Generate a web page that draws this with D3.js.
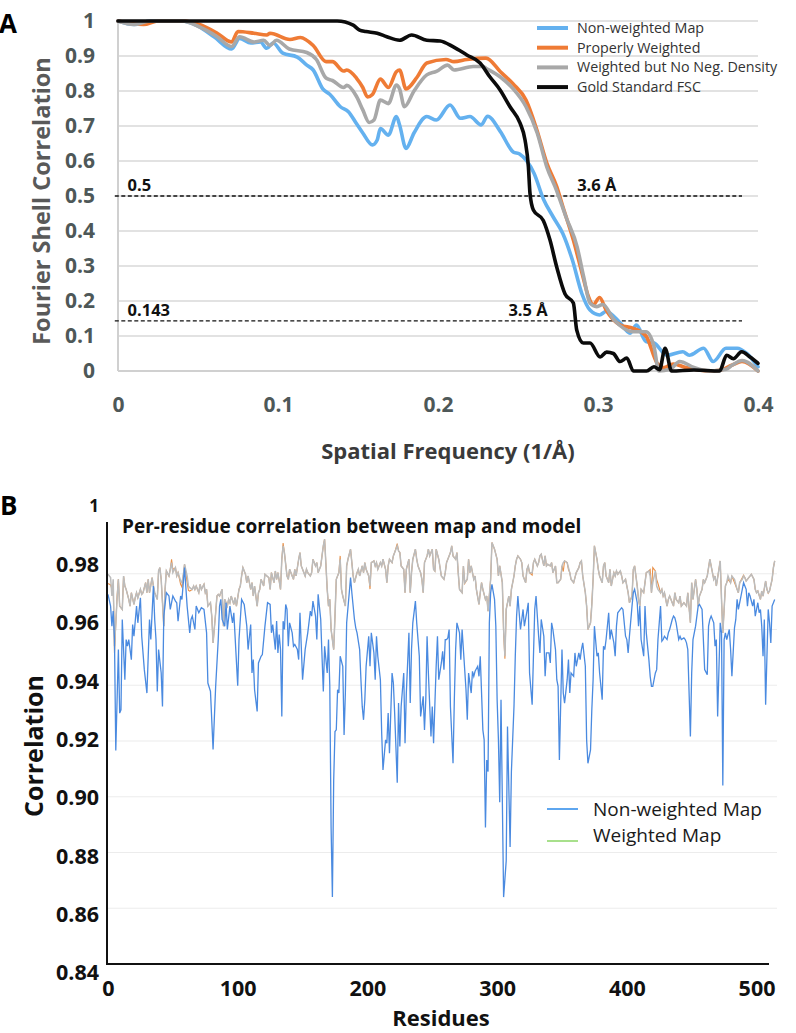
<!DOCTYPE html>
<html><head><meta charset="utf-8">
<script src="https://cdn.jsdelivr.net/npm/d3@7"></script>
<style>body{margin:0;background:#fff}svg{display:block}text{font-family:"Open Sans",sans-serif}</style>
</head><body>
<script>
// ---------- Panel A data (Fourier Shell Correlation) ----------
const seriesA = ["Non-weighted Map","Properly Weighted","Weighted but No Neg. Density","Gold Standard FSC"];
const freqBlue=[0,0.01,0.02,0.04,0.05,0.06,0.071,0.076,0.083,0.089,0.093,0.097,0.103,0.112,0.118,0.122,0.128,0.1325,0.139,0.144,0.149,0.153,0.159,0.162,0.164,0.169,0.174,0.176,0.18,0.185,0.193,0.199,0.2075,0.214,0.22,0.227,0.231,0.239,0.247,0.251,0.26,0.266,0.272,0.278,0.284,0.29,0.295,0.301,0.305,0.314,0.32,0.324,0.33,0.335,0.343,0.353,0.357,0.366,0.372,0.38,0.387,0.393,0.4];
const fscBlue=[1,0.99,1,1,0.985,0.955,0.92,0.95,0.937,0.94,0.922,0.937,0.908,0.897,0.874,0.86,0.806,0.79,0.755,0.741,0.707,0.68,0.646,0.66,0.693,0.674,0.727,0.703,0.636,0.68,0.727,0.717,0.76,0.722,0.727,0.703,0.728,0.684,0.626,0.62,0.565,0.49,0.44,0.393,0.317,0.22,0.174,0.16,0.17,0.137,0.108,0.131,0.084,0.08,0.045,0.055,0.045,0.065,0.027,0.065,0.065,0.05,0.012];
const freqOrange=[0,0.016,0.025,0.041,0.051,0.062,0.071,0.075,0.085,0.093,0.095,0.1075,0.114,0.122,0.13,0.134,0.141,0.143,0.149,0.153,0.156,0.159,0.164,0.169,0.174,0.176,0.18,0.187,0.193,0.205,0.21,0.218,0.23,0.239,0.247,0.255,0.2617,0.268,0.2742,0.278,0.2846,0.29,0.294,0.297,0.301,0.305,0.314,0.322,0.33,0.337,0.341,0.347,0.355,0.36,0.37,0.376,0.384,0.39,0.4];
const fscOrange=[1,0.99,1,1,0.99,0.965,0.94,0.97,0.965,0.96,0.965,0.947,0.953,0.93,0.884,0.884,0.857,0.86,0.837,0.81,0.783,0.79,0.834,0.81,0.855,0.86,0.806,0.84,0.88,0.89,0.884,0.89,0.894,0.855,0.82,0.774,0.69,0.594,0.527,0.47,0.374,0.28,0.213,0.189,0.21,0.175,0.131,0.122,0.1,0.022,0.01,0.02,0.01,0.005,0,0.002,0.017,0.027,0];
const freqGray=[0,0.01,0.02,0.04,0.05,0.062,0.071,0.076,0.085,0.091,0.095,0.099,0.107,0.118,0.124,0.13,0.134,0.141,0.143,0.149,0.153,0.157,0.16,0.164,0.169,0.174,0.176,0.179,0.185,0.193,0.199,0.206,0.21,0.222,0.228,0.23,0.239,0.247,0.255,0.262,0.268,0.274,0.28,0.287,0.291,0.295,0.299,0.303,0.31,0.322,0.33,0.335,0.338,0.345,0.351,0.36,0.37,0.38,0.384,0.39,0.4];
const fscGray=[1,0.99,1,1,0.985,0.955,0.927,0.955,0.94,0.945,0.93,0.945,0.92,0.91,0.89,0.837,0.83,0.81,0.816,0.785,0.746,0.71,0.717,0.774,0.764,0.817,0.806,0.755,0.8,0.846,0.856,0.874,0.86,0.87,0.87,0.865,0.84,0.806,0.755,0.68,0.583,0.517,0.44,0.354,0.27,0.194,0.184,0.19,0.146,0.112,0.112,0.07,0,0.005,0.027,0.01,0,0.005,0.017,0.03,0];
const freqBlack=[0,0.137,0.147,0.151,0.155,0.162,0.168,0.176,0.1835,0.193,0.2013,0.2096,0.218,0.2263,0.2325,0.2388,0.245,0.2513,0.2544,0.2565,0.2575,0.2596,0.2658,0.27,0.2742,0.2794,0.2846,0.2867,0.2908,0.295,0.3013,0.3054,0.3096,0.3138,0.318,0.3221,0.3304,0.335,0.3385,0.3419,0.346,0.36,0.376,0.3804,0.3846,0.3898,0.395,0.4];
const fscBlack=[1,1,0.988,0.974,0.97,0.965,0.955,0.945,0.96,0.945,0.943,0.926,0.903,0.88,0.84,0.803,0.755,0.708,0.66,0.583,0.507,0.46,0.43,0.374,0.297,0.22,0.194,0.117,0.08,0.08,0.04,0.054,0.05,0.027,0.037,0,0,0.012,0.004,0.065,0,0.003,0,0.045,0.035,0.055,0.04,0.022];
const thresholds=[0.5,0.143];
const thresholdLabels=["0.5","0.143"];
const resolutionLabels=["3.6 Å","3.5 Å"];
const resolutionFreq=[0.287,0.244];
const xTicksA=[0,0.1,0.2,0.3,0.4];

// ---------- Panel B data (per-residue correlation) ----------
const seriesB=["Non-weighted Map","Weighted Map"];
const resBlue=[0,2,3,4,5,6,8,9,10,11,13,14,15,16,18,19,20,22,23,25,26,28,30,32,33,35,36,37,38,39,41,42,43,45,47,48,50,52,53,54,56,57,59,61,63,64,65,67,68,70,72,74,76,77,79,81,83,85,86,87,88,90,91,92,94,96,97,100,101,103,105,107,108,110,111,112,113,115,116,118,119,121,123,125,126,127,129,130,131,132,133,134,135,136,137,138,139,140,142,143,144,146,147,148,150,152,154,156,157,158,160,161,162,164,165,166,167,169,170,171,172,173,174,175,176,177,178,179,181,182,183,184,186,187,188,190,191,192,194,195,196,197,198,199,201,202,203,205,206,207,208,210,211,212,214,215,216,217,219,220,221,223,224,225,226,228,229,230,232,233,234,235,237,238,240,241,243,244,245,246,247,249,250,251,253,254,255,257,258,259,260,261,262,263,264,266,267,268,269,271,272,273,274,276,277,278,280,281,282,283,285,286,287,289,290,291,292,293,294,295,296,298,299,300,301,302,303,305,307,308,310,311,313,314,315,316,318,319,320,321,323,324,325,327,328,329,330,332,333,334,336,337,338,340,341,342,343,345,346,347,348,350,351,352,354,355,356,357,359,360,361,363,364,365,366,368,369,370,372,373,374,375,377,378,379,381,382,383,384,386,387,388,390,391,392,393,395,396,397,399,400,401,402,404,405,406,408,409,410,411,413,414,415,417,418,419,420,422,423,424,426,427,428,429,431,432,433,435,436,437,438,440,441,442,444,445,446,447,449,450,451,453,454,455,456,458,459,460,462,463,464,465,467,468,469,470,472,473,474,475,476,477,479,480,481,483,484,485,486,488,489,490,492,493,494,495,497,498,499,501,502,503,504,505,506,507,509,510,511,512,514];
const corrBlue=[0.9726,0.9684,0.9612,0.9666,0.9564,0.9166,0.9528,0.930,0.9312,0.9636,0.942,0.9564,0.954,0.9564,0.9492,0.9618,0.9576,0.9684,0.9624,0.9714,0.9576,0.9456,0.9372,0.9636,0.9564,0.9756,0.9636,0.9564,0.9378,0.9528,0.9444,0.9324,0.9648,0.9732,0.972,0.9672,0.972,0.9702,0.9696,0.963,0.972,0.9708,0.9822,0.9684,0.9588,0.9636,0.9648,0.960,0.9684,0.966,0.9678,0.9672,0.9588,0.9408,0.9378,0.917,0.9396,0.9564,0.9684,0.9708,0.9636,0.9612,0.9696,0.960,0.9684,0.9624,0.966,0.9398,0.9564,0.9708,0.969,0.9612,0.9528,0.9618,0.9444,0.9492,0.9384,0.9306,0.948,0.9504,0.951,0.9612,0.9696,0.969,0.9588,0.9618,0.9528,0.963,0.9516,0.9582,0.9528,0.9288,0.963,0.960,0.969,0.9672,0.954,0.9624,0.9588,0.954,0.9546,0.9528,0.9492,0.966,0.942,0.9528,0.9588,0.9666,0.9648,0.9702,0.9648,0.9564,0.9726,0.9636,0.9504,0.9378,0.954,0.9444,0.9564,0.9396,0.889,0.864,0.906,0.9234,0.924,0.9384,0.9372,0.9504,0.9468,0.9222,0.9372,0.9624,0.9732,0.9786,0.9732,0.9636,0.9606,0.9588,0.9528,0.942,0.9324,0.9276,0.9348,0.9468,0.9576,0.9468,0.9588,0.9516,0.942,0.9576,0.9504,0.942,0.9228,0.9096,0.9204,0.9192,0.930,0.9156,0.9444,0.9408,0.930,0.905,0.9336,0.918,0.9324,0.9444,0.9192,0.9372,0.9588,0.9336,0.9528,0.9624,0.9702,0.9624,0.9504,0.9288,0.936,0.924,0.9348,0.9576,0.9444,0.9216,0.9324,0.9192,0.9468,0.9576,0.942,0.948,0.9522,0.9456,0.9564,0.9564,0.957,0.960,0.9324,0.912,0.9348,0.9528,0.9624,0.9588,0.9492,0.960,0.9528,0.9384,0.9276,0.9444,0.9372,0.945,0.9432,0.945,0.9468,0.9432,0.9504,0.924,0.9204,0.889,0.9132,0.909,0.9624,0.9732,0.9762,0.9708,0.9612,0.9348,0.9204,0.898,0.9348,0.864,0.877,0.9252,0.882,0.909,0.9324,0.9504,0.9648,0.972,0.960,0.9636,0.9672,0.9612,0.9666,0.9696,0.9444,0.933,0.9504,0.9672,0.972,0.9576,0.9516,0.9636,0.9576,0.9432,0.9516,0.9516,0.948,0.9624,0.960,0.9528,0.942,0.9396,0.9132,0.9528,0.9372,0.9336,0.942,0.9492,0.9372,0.9444,0.9432,0.9516,0.9468,0.9516,0.9492,0.9528,0.9552,0.9468,0.9204,0.912,0.9168,0.9312,0.942,0.9612,0.9504,0.9516,0.9444,0.9348,0.954,0.9528,0.9564,0.966,0.9564,0.960,0.9552,0.9504,0.9612,0.966,0.9672,0.9678,0.9672,0.9576,0.9564,0.9516,0.9576,0.9684,0.9732,0.9744,0.9696,0.9612,0.9684,0.9564,0.9504,0.9684,0.9588,0.9492,0.9432,0.9396,0.9396,0.9444,0.9456,0.9564,0.9684,0.9558,0.9564,0.9576,0.9564,0.9588,0.960,0.9636,0.9648,0.9642,0.9624,0.9564,0.9576,0.9564,0.957,0.9564,0.9552,0.9528,0.9216,0.9444,0.9564,0.9612,0.9648,0.9684,0.969,0.9672,0.9564,0.9456,0.9438,0.9612,0.9636,0.9648,0.9624,0.954,0.9564,0.9288,0.9624,0.9588,0.904,0.9564,0.9588,0.9564,0.960,0.9528,0.9432,0.9606,0.9636,0.9708,0.9672,0.972,0.9744,0.9768,0.9744,0.9684,0.9732,0.972,0.9684,0.9708,0.9648,0.9696,0.966,0.9672,0.9612,0.9504,0.9636,0.933,0.9672,0.9624,0.9552,0.9684,0.9708];
const resGray=[0,2,3,4,5,7,8,9,11,12,13,14,16,17,18,20,21,22,23,25,26,27,29,30,31,32,34,35,36,38,39,40,41,43,44,45,47,48,49,50,52,53,54,56,57,58,59,61,62,63,65,66,67,68,70,71,72,74,75,76,77,79,80,81,83,84,85,86,88,89,90,92,93,94,95,97,98,99,101,102,103,104,106,107,108,110,111,112,113,115,116,117,118,120,121,124,125,126,128,129,130,131,133,134,135,136,138,139,140,142,143,144,145,147,148,149,151,152,153,154,156,157,158,160,161,162,164,165,166,167,169,170,171,172,174,175,176,178,179,180,181,183,184,185,187,188,189,190,192,193,194,196,197,198,199,201,202,203,205,206,207,208,210,211,212,214,215,216,217,219,220,221,223,224,225,226,228,229,230,232,233,234,235,237,238,239,241,242,243,244,246,247,248,250,251,252,253,255,257,259,260,261,262,264,265,266,268,269,270,271,273,274,275,277,278,279,280,282,283,284,286,287,288,289,291,292,293,295,296,297,298,300,301,302,304,305,306,307,309,310,311,313,314,315,316,318,319,320,322,323,324,325,327,328,329,331,332,333,334,336,337,338,339,341,342,343,345,346,347,349,350,351,352,354,355,356,357,359,360,361,363,364,365,366,368,369,370,372,373,374,375,377,378,379,381,382,383,384,386,387,388,390,391,392,393,395,396,397,399,400,401,402,404,405,406,408,409,410,411,413,414,415,417,418,419,420,422,423,424,426,427,428,429,431,432,433,435,436,437,438,440,441,442,444,445,446,447,449,450,451,453,454,455,456,458,459,460,462,463,464,465,467,468,469,471,472,473,474,476,477,478,480,481,482,483,485,486,487,489,490,491,492,494,495,496,498,499,500,501,503,504,505,507,508,509,510,512,513,514];
const corrGray=[0.9798,0.9786,0.972,0.978,0.954,0.9708,0.978,0.9684,0.9672,0.9792,0.9756,0.9744,0.9708,0.9684,0.9732,0.969,0.9714,0.9732,0.9714,0.9744,0.9726,0.9732,0.9768,0.9732,0.978,0.9732,0.9786,0.9756,0.9732,0.9708,0.981,0.9822,0.978,0.9612,0.9744,0.981,0.9792,0.9816,0.984,0.9804,0.9822,0.9792,0.9804,0.9774,0.9768,0.9792,0.9834,0.9792,0.9756,0.975,0.9744,0.9756,0.9744,0.9756,0.9732,0.9762,0.9744,0.9762,0.9732,0.9744,0.9684,0.9696,0.9648,0.9552,0.966,0.972,0.9726,0.972,0.9744,0.9612,0.9708,0.9684,0.9708,0.9696,0.972,0.969,0.9714,0.9684,0.9744,0.9756,0.9792,0.9822,0.9798,0.9768,0.9792,0.9744,0.9768,0.972,0.9756,0.9684,0.9732,0.9744,0.978,0.9756,0.9798,0.9786,0.9744,0.9804,0.9768,0.981,0.978,0.9804,0.9744,0.9852,0.990,0.9876,0.9792,0.978,0.9816,0.9792,0.978,0.9816,0.9792,0.9852,0.9876,0.9828,0.9804,0.9792,0.9816,0.9804,0.9792,0.9804,0.9852,0.9828,0.984,0.9804,0.9828,0.9864,0.990,0.9924,0.9744,0.9684,0.9708,0.960,0.9528,0.9648,0.978,0.9804,0.9852,0.9744,0.972,0.9684,0.9828,0.9852,0.9888,0.984,0.9792,0.9768,0.9804,0.9816,0.9792,0.9828,0.9804,0.984,0.9816,0.9792,0.9756,0.984,0.9846,0.9828,0.984,0.9816,0.984,0.9828,0.9852,0.9816,0.9768,0.9828,0.9852,0.984,0.9864,0.9876,0.990,0.9882,0.9876,0.9828,0.9816,0.9732,0.9816,0.9852,0.9732,0.9804,0.9852,0.9888,0.9852,0.9828,0.9804,0.978,0.9732,0.984,0.9864,0.9888,0.9864,0.9888,0.9816,0.981,0.9888,0.9852,0.9792,0.978,0.9804,0.984,0.9852,0.9876,0.990,0.9864,0.9852,0.9876,0.9804,0.9744,0.9732,0.9828,0.9768,0.978,0.9852,0.9804,0.9828,0.978,0.9792,0.9744,0.969,0.9732,0.9768,0.9744,0.9708,0.972,0.9666,0.978,0.9912,0.990,0.9888,0.9852,0.9792,0.9828,0.9768,0.960,0.9504,0.9672,0.972,0.9684,0.9744,0.9792,0.9828,0.9852,0.9864,0.9852,0.984,0.9792,0.9768,0.9816,0.9828,0.9804,0.9804,0.984,0.9852,0.9828,0.984,0.9864,0.987,0.9828,0.9864,0.9828,0.9834,0.9828,0.984,0.9804,0.9828,0.9768,0.9768,0.978,0.9828,0.984,0.9846,0.984,0.9822,0.9804,0.978,0.9768,0.9786,0.9804,0.9822,0.984,0.9846,0.9792,0.9732,0.9684,0.960,0.9624,0.9684,0.978,0.990,0.9852,0.9816,0.9792,0.9768,0.9828,0.984,0.9792,0.9768,0.9816,0.9756,0.9804,0.9792,0.981,0.9798,0.981,0.9792,0.9768,0.978,0.9756,0.9732,0.9696,0.972,0.9816,0.9828,0.9756,0.9708,0.9684,0.9744,0.9732,0.9768,0.9804,0.981,0.9792,0.9732,0.9768,0.981,0.9756,0.9744,0.9732,0.9744,0.972,0.9732,0.9684,0.9708,0.972,0.9696,0.9684,0.9732,0.9708,0.9696,0.972,0.9684,0.9696,0.969,0.9684,0.9732,0.9624,0.9768,0.9708,0.978,0.9744,0.9684,0.972,0.9744,0.978,0.9768,0.9792,0.9822,0.9852,0.9828,0.978,0.9792,0.9756,0.9816,0.9846,0.9708,0.9588,0.9756,0.9768,0.9792,0.9768,0.9792,0.9786,0.978,0.9744,0.9732,0.9768,0.978,0.9792,0.9786,0.9774,0.9786,0.9792,0.9798,0.978,0.9744,0.9732,0.9738,0.9708,0.9738,0.972,0.9774,0.9744,0.9732,0.9738,0.978,0.9822,0.9846];
const corrOrange=[0.9765,0.976,0.9745,0.976,0.9515,0.972,0.978,0.9684,0.9672,0.9792,0.9756,0.9744,0.9708,0.9684,0.9732,0.969,0.9714,0.9732,0.9714,0.9744,0.9726,0.9732,0.9768,0.9732,0.978,0.9732,0.9786,0.9756,0.9732,0.9708,0.981,0.9822,0.978,0.9612,0.9744,0.981,0.9792,0.9816,0.9852,0.9815,0.9822,0.9792,0.9804,0.9762,0.9752,0.9792,0.9834,0.977,0.974,0.9738,0.9744,0.9756,0.9744,0.9756,0.9732,0.9762,0.9744,0.9762,0.9732,0.9744,0.9684,0.9696,0.9648,0.9552,0.966,0.972,0.9726,0.972,0.9744,0.9612,0.9708,0.9684,0.9708,0.9696,0.972,0.969,0.9714,0.9684,0.9744,0.9756,0.9792,0.9822,0.9798,0.9768,0.9792,0.9744,0.9768,0.972,0.9756,0.9684,0.9732,0.9744,0.978,0.9756,0.9798,0.9786,0.9744,0.9804,0.9768,0.981,0.978,0.9804,0.9744,0.9852,0.991,0.9876,0.9792,0.978,0.9816,0.9792,0.978,0.9816,0.9792,0.9852,0.9876,0.9828,0.9804,0.9792,0.9816,0.9804,0.9792,0.9804,0.9852,0.9828,0.984,0.9804,0.9828,0.9864,0.990,0.9924,0.9744,0.9684,0.9708,0.960,0.9528,0.9648,0.978,0.9804,0.9864,0.9744,0.972,0.9684,0.9828,0.9852,0.9888,0.984,0.9792,0.9768,0.9804,0.9816,0.9792,0.9828,0.9804,0.984,0.9816,0.9792,0.9745,0.984,0.9846,0.9828,0.984,0.9816,0.984,0.9828,0.9852,0.9816,0.9768,0.9828,0.9852,0.984,0.9864,0.9876,0.9908,0.9882,0.9876,0.9828,0.9816,0.9732,0.9816,0.9852,0.9732,0.9804,0.9852,0.9888,0.9852,0.9828,0.9804,0.978,0.9732,0.984,0.9864,0.9888,0.9864,0.9888,0.9816,0.981,0.9888,0.9852,0.9792,0.978,0.9804,0.984,0.9852,0.9876,0.990,0.9864,0.9852,0.9876,0.9804,0.9744,0.9732,0.9828,0.9765,0.978,0.9852,0.9804,0.9828,0.978,0.9792,0.9744,0.969,0.9732,0.9768,0.9744,0.9708,0.972,0.9666,0.978,0.9912,0.990,0.9888,0.9852,0.9792,0.9828,0.9768,0.9585,0.9495,0.9672,0.972,0.9684,0.9744,0.9792,0.9828,0.9852,0.9864,0.9852,0.984,0.9792,0.9768,0.9816,0.9828,0.9804,0.9795,0.984,0.9852,0.9828,0.984,0.9864,0.987,0.9828,0.9864,0.9828,0.9834,0.9828,0.984,0.9804,0.9828,0.9768,0.9768,0.978,0.9828,0.9808,0.9846,0.984,0.9815,0.9804,0.978,0.9768,0.9786,0.9804,0.9822,0.984,0.9846,0.9792,0.9732,0.9684,0.960,0.9624,0.9695,0.978,0.990,0.9852,0.9816,0.9792,0.9768,0.9828,0.984,0.9792,0.9768,0.9816,0.9756,0.9804,0.9792,0.981,0.9798,0.981,0.9792,0.9768,0.978,0.9756,0.9732,0.9696,0.972,0.9816,0.9828,0.9756,0.9708,0.9684,0.9744,0.9732,0.9768,0.9804,0.981,0.9815,0.9732,0.9822,0.981,0.978,0.9765,0.9732,0.9744,0.972,0.9732,0.9684,0.9708,0.972,0.9696,0.9684,0.9732,0.9708,0.9696,0.972,0.9684,0.9696,0.969,0.9684,0.9732,0.9624,0.9768,0.9708,0.978,0.9744,0.9684,0.972,0.9744,0.978,0.9768,0.9792,0.9822,0.9852,0.9828,0.978,0.9792,0.9756,0.9816,0.9846,0.9708,0.9588,0.9756,0.9768,0.978,0.9768,0.979,0.978,0.9768,0.9744,0.9732,0.9768,0.9786,0.9795,0.9786,0.9774,0.9786,0.9792,0.9798,0.978,0.9744,0.9732,0.9738,0.9708,0.9738,0.972,0.9774,0.9744,0.973,0.9738,0.978,0.9822,0.9846];
const yTicksB=[0.84,0.86,0.88,0.90,0.92,0.94,0.96,0.98,1];
const xTicksB=[0,100,200,300,400,500];

// ---------- drawing ----------
const W=796,H=1033;
const svg=d3.select("body").append("svg").attr("width",W).attr("height",H);
svg.append("rect").attr("width",W).attr("height",H).attr("fill","#fff");

// ===== Panel A =====
const xA=d3.scaleLinear().domain([0,0.4]).range([118,758]);
const yA=d3.scaleLinear().domain([0,1]).range([371,21]);
const gA=svg.append("g");
gA.append("g").selectAll("line").data(d3.range(1,11).map(i=>i/10)).join("line")
  .attr("x1",xA(0)).attr("x2",xA(0.4)).attr("y1",d=>yA(d)).attr("y2",d=>yA(d))
  .attr("stroke","#d9d9d9").attr("stroke-width",1.5);
gA.append("line").attr("x1",xA(0)).attr("x2",xA(0.4)).attr("y1",yA(0)).attr("y2",yA(0)).attr("stroke","#d0d0d0").attr("stroke-width",2);
gA.append("line").attr("x1",xA(0)).attr("x2",xA(0)).attr("y1",yA(0)).attr("y2",yA(1)).attr("stroke","#d0d0d0").attr("stroke-width",2);

const axYA=gA.append("g").attr("transform",`translate(${xA(0)},0)`)
  .call(d3.axisLeft(yA).tickValues(d3.range(0,11).map(i=>i/10)).tickSize(0).tickPadding(23).tickFormat(d3.format(".1~f")));
axYA.select(".domain").remove();
axYA.selectAll("text").attr("font-size",21).attr("font-weight",700).attr("fill","#4e5858").attr("font-family","Open Sans");
const axXA=gA.append("g").attr("transform",`translate(0,${yA(0)})`)
  .call(d3.axisBottom(xA).tickValues(xTicksA).tickSize(0).tickPadding(26).tickFormat(d3.format(".1~f")));
axXA.select(".domain").remove();
axXA.selectAll("text").attr("font-size",21).attr("font-weight",700).attr("fill","#4e5858").attr("font-family","Open Sans");

// thresholds
thresholds.forEach((t,i)=>{
  gA.append("line").attr("x1",xA(-0.002)).attr("x2",xA(0.39)).attr("y1",yA(t)).attr("y2",yA(t))
    .attr("stroke","#111").attr("stroke-width",1.3).attr("stroke-dasharray","4,2.5");
  gA.append("text").attr("x",xA(0.006)).attr("y",yA(t)-5).text(thresholdLabels[i])
    .attr("font-size",16.5).attr("font-weight",700).attr("fill","#111");
  gA.append("text").attr("x",xA(resolutionFreq[i])).attr("y",yA(t)-5).text(resolutionLabels[i])
    .attr("font-size",16.5).attr("font-weight",700).attr("fill","#111");
});

const lineA=d3.line().x(d=>xA(d[0])).y(d=>yA(d[1])).curve(d3.curveMonotoneX);
const colorsA=["#64b1ef","#ef7b35","#a8a8a8","#0b0b0b"];
const dataA=[d3.zip(freqBlue,fscBlue),d3.zip(freqOrange,fscOrange),d3.zip(freqGray,fscGray),d3.zip(freqBlack,fscBlack)];
dataA.forEach((d,i)=>{
  gA.append("path").datum(d).attr("d",lineA).attr("fill","none").attr("stroke",colorsA[i])
    .attr("stroke-width",3.6).attr("stroke-linejoin","round").attr("stroke-linecap","round");
});
// legend A
const legA=gA.append("g");
seriesA.forEach((s,i)=>{
  const yy=28+i*19.7;
  legA.append("line").attr("x1",537).attr("x2",568).attr("y1",yy).attr("y2",yy).attr("stroke",colorsA[i]).attr("stroke-width",4);
  legA.append("text").attr("x",577).attr("y",yy).attr("dy","0.35em").text(s).attr("font-size",14.3).attr("fill","#333");
});
gA.append("text").attr("transform",`translate(50,${(yA(0)+yA(1))/2 + 5}) rotate(-90)`).attr("text-anchor","middle")
  .text("Fourier Shell Correlation").attr("font-size",23.5).attr("font-weight",700).attr("fill","#595959");
gA.append("text").attr("x",448).attr("y",451).attr("dy","0.35em").attr("text-anchor","middle")
  .text("Spatial Frequency (1/Å)").attr("font-size",22).attr("font-weight",700).attr("fill","#3a3a3a");
svg.append("text").attr("x",-1).attr("y",33).text("A").attr("font-family","Liberation Sans").attr("font-size",26).attr("font-weight",700).attr("fill","#000");

// ===== Panel B =====
const xB=d3.scaleLinear().domain([0,515]).range([108,776]);
const yB=d3.scaleLinear().domain([0.84,1]).range([964,518]);
const yLabB=d3.scaleLinear().domain([0.84,1]).range([973,506]);
const gB=svg.append("g");
gB.append("g").selectAll("line").data(yTicksB.filter(v=>v>0.845&&v<0.995)).join("line")
  .attr("x1",xB(0)).attr("x2",777).attr("y1",d=>yB(d)).attr("y2",d=>yB(d))
  .attr("stroke","#ececec").attr("stroke-width",1.2);

const lineB=d3.line().x(d=>xB(d[0])).y(d=>yB(d[1]));
gB.append("path").datum(d3.zip(resGray,corrOrange)).attr("d",lineB).attr("fill","none").attr("stroke","#e8914a").attr("stroke-width",1.1);
gB.append("path").datum(d3.zip(resGray,corrGray)).attr("d",lineB).attr("fill","none").attr("stroke","#bcbcbc").attr("stroke-width",1.5);
gB.append("path").datum(d3.zip(resBlue,corrBlue)).attr("d",lineB).attr("fill","none").attr("stroke","#4a8ae0").attr("stroke-width",1.3);

gB.append("line").attr("x1",107).attr("x2",107).attr("y1",522).attr("y2",yB(0.84)).attr("stroke","#111").attr("stroke-width",2);
gB.append("line").attr("x1",106).attr("x2",769).attr("y1",yB(0.84)).attr("y2",yB(0.84)).attr("stroke","#111").attr("stroke-width",2);

const axYB=gB.append("g").attr("transform","translate(99,0)")
  .call(d3.axisLeft(yLabB).tickValues(yTicksB).tickSize(0).tickPadding(0).tickFormat(d=>d===1?"1":d3.format(".2f")(d)));
axYB.select(".domain").remove();
axYB.selectAll("text").attr("font-size",d=>d===1?17:21.5).attr("font-weight",700).attr("fill","#111").attr("font-family","Open Sans");
const axXB=gB.append("g").attr("transform",`translate(0,${yB(0.84)})`)
  .call(d3.axisBottom(xB).tickValues(xTicksB).tickSize(0).tickPadding(17));
axXB.select(".domain").remove();
axXB.selectAll("text").attr("font-size",21.5).attr("font-weight",700).attr("fill","#111").attr("font-family","Open Sans");

gB.append("text").attr("x",122).attr("y",526).attr("dy","0.35em").text("Per-residue correlation between map and model")
  .attr("font-size",19).attr("font-weight",700).attr("fill","#111");
gB.append("text").attr("transform","translate(43,746) rotate(-90)").attr("text-anchor","middle")
  .text("Correlation").attr("font-size",25).attr("font-weight",700).attr("fill","#111");
gB.append("text").attr("x",441).attr("y",1018).attr("dy","0.35em").attr("text-anchor","middle")
  .text("Residues").attr("font-size",22).attr("font-weight",700).attr("fill","#111");
const legColB=["#5ea6ef","#a8e08c"];
seriesB.forEach((s,i)=>{
  const yy=809+i*30;
  gB.append("line").attr("x1",547).attr("x2",578).attr("y1",yy+ (i?2:0)).attr("y2",yy+(i?2:0)).attr("stroke",legColB[i]).attr("stroke-width",2);
  gB.append("text").attr("x",593).attr("y",yy-(i?4:0)).attr("dy","0.35em").text(s).attr("font-size",19).attr("fill","#1a1a1a");
});
svg.append("text").attr("x",0).attr("y",515).text("B").attr("font-family","Liberation Sans").attr("font-size",26).attr("font-weight",700).attr("fill","#000");
</script>
</body></html>
